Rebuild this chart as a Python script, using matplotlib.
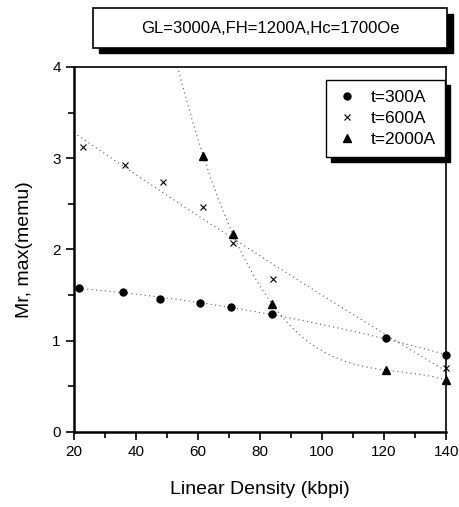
import numpy as np
import matplotlib.pyplot as plt
from matplotlib.patches import Rectangle

plt.rcParams['font.family'] = ['Liberation Sans', 'DejaVu Sans']

# data
x300 = [21.7, 35.7, 47.8, 60.7, 70.8, 83.7, 120.6, 139.9]
y300 = [1.58, 1.53, 1.46, 1.41, 1.37, 1.29, 1.03, 0.84]
x600 = [22.8, 36.6, 48.7, 61.7, 71.4, 84.2, 139.9]
y600 = [3.12, 2.92, 2.74, 2.46, 2.07, 1.68, 0.70]
x2000 = [61.7, 71.4, 83.7, 120.6, 140.0]
y2000 = [3.02, 2.17, 1.40, 0.68, 0.57]

title = 'GL=3000A,FH=1200A,Hc=1700Oe'
labels = ['t=300A', 't=600A', 't=2000A']

fig = plt.figure(figsize=(4.59, 5.07), dpi=100)
ax = fig.add_axes([0.161, 0.148, 0.811, 0.72])

# dotted fit curves
xs = np.linspace(20, 140, 300)
c = np.polyfit(x300, y300, 2)
ax.plot(xs, np.polyval(c, xs), ls=(0, (1, 3)), lw=0.8, color='0.35')
c = np.polyfit(x600, y600, 2)
ax.plot(xs, np.polyval(c, xs), ls=(0, (1, 3)), lw=0.8, color='0.35')
xs2 = np.linspace(50, 140, 300)
c = np.polyfit(x2000, y2000, 3)
ax.plot(xs2, np.polyval(c, xs2), ls=(0, (1, 3)), lw=0.8, color='0.35')

ax.plot(x300, y300, 'o', color='black', ms=5, clip_on=False, label=labels[0])
ax.plot(x600, y600, 'x', color='black', ms=5, mew=0.8, clip_on=False, label=labels[1])
ax.plot(x2000, y2000, '^', color='black', ms=6, clip_on=False, label=labels[2])

ax.set_xlim(20, 140)
ax.set_ylim(0, 4)
ax.set_xticks([20, 40, 60, 80, 100, 120, 140])
ax.set_xticks(np.arange(30, 140, 20), minor=True)
ax.set_yticks([0, 1, 2, 3, 4])
ax.set_yticks([0.5, 1.5, 2.5, 3.5], minor=True)
ax.tick_params(direction='out', length=6, width=1.2, labelsize=11, top=False, right=False)
ax.tick_params(which='minor', direction='out', length=4, width=1.2)
for s in ['left', 'bottom']:
    ax.spines[s].set_linewidth(1.8)
for s in ['top', 'right']:
    ax.spines[s].set_linewidth(1.2)

ax.set_xlabel('Linear Density (kbpi)', fontsize=14, labelpad=16)
ax.set_ylabel('Mr, max(memu)', fontsize=14, labelpad=14)

leg = ax.legend(loc='upper right', bbox_to_anchor=(0.997, 0.964), borderaxespad=0,
                frameon=True, fancybox=False, framealpha=1,
                fontsize=12.5, handletextpad=0.7, borderpad=0.55, labelspacing=0.35,
                handlelength=1.3)
leg.get_frame().set_edgecolor('black')
leg.get_frame().set_linewidth(1.0)
leg.set_zorder(10)

# legend shadow, drawn just under the legend
fig.canvas.draw()
bb = leg.get_window_extent().transformed(ax.transAxes.inverted())
sx, sy = 5 / (0.811 * 459), 5 / (0.72 * 507)
ax.add_patch(Rectangle((bb.x0 + sx, bb.y0 - sy), bb.width, bb.height,
                       transform=ax.transAxes, facecolor='black', edgecolor='black',
                       clip_on=False, zorder=9))

# title box with shadow
shadow = Rectangle((0.216, 0.895), 0.77, 0.078, transform=fig.transFigure,
                   facecolor='black', edgecolor='black', zorder=1)
box = Rectangle((0.203, 0.906), 0.77, 0.078, transform=fig.transFigure,
                facecolor='white', edgecolor='black', lw=1.2, zorder=2)
fig.add_artist(shadow)
fig.add_artist(box)
fig.text(0.588, 0.944, title, ha='center', va='center', fontsize=12, zorder=3)

fig.savefig('out.png', dpi=100)
